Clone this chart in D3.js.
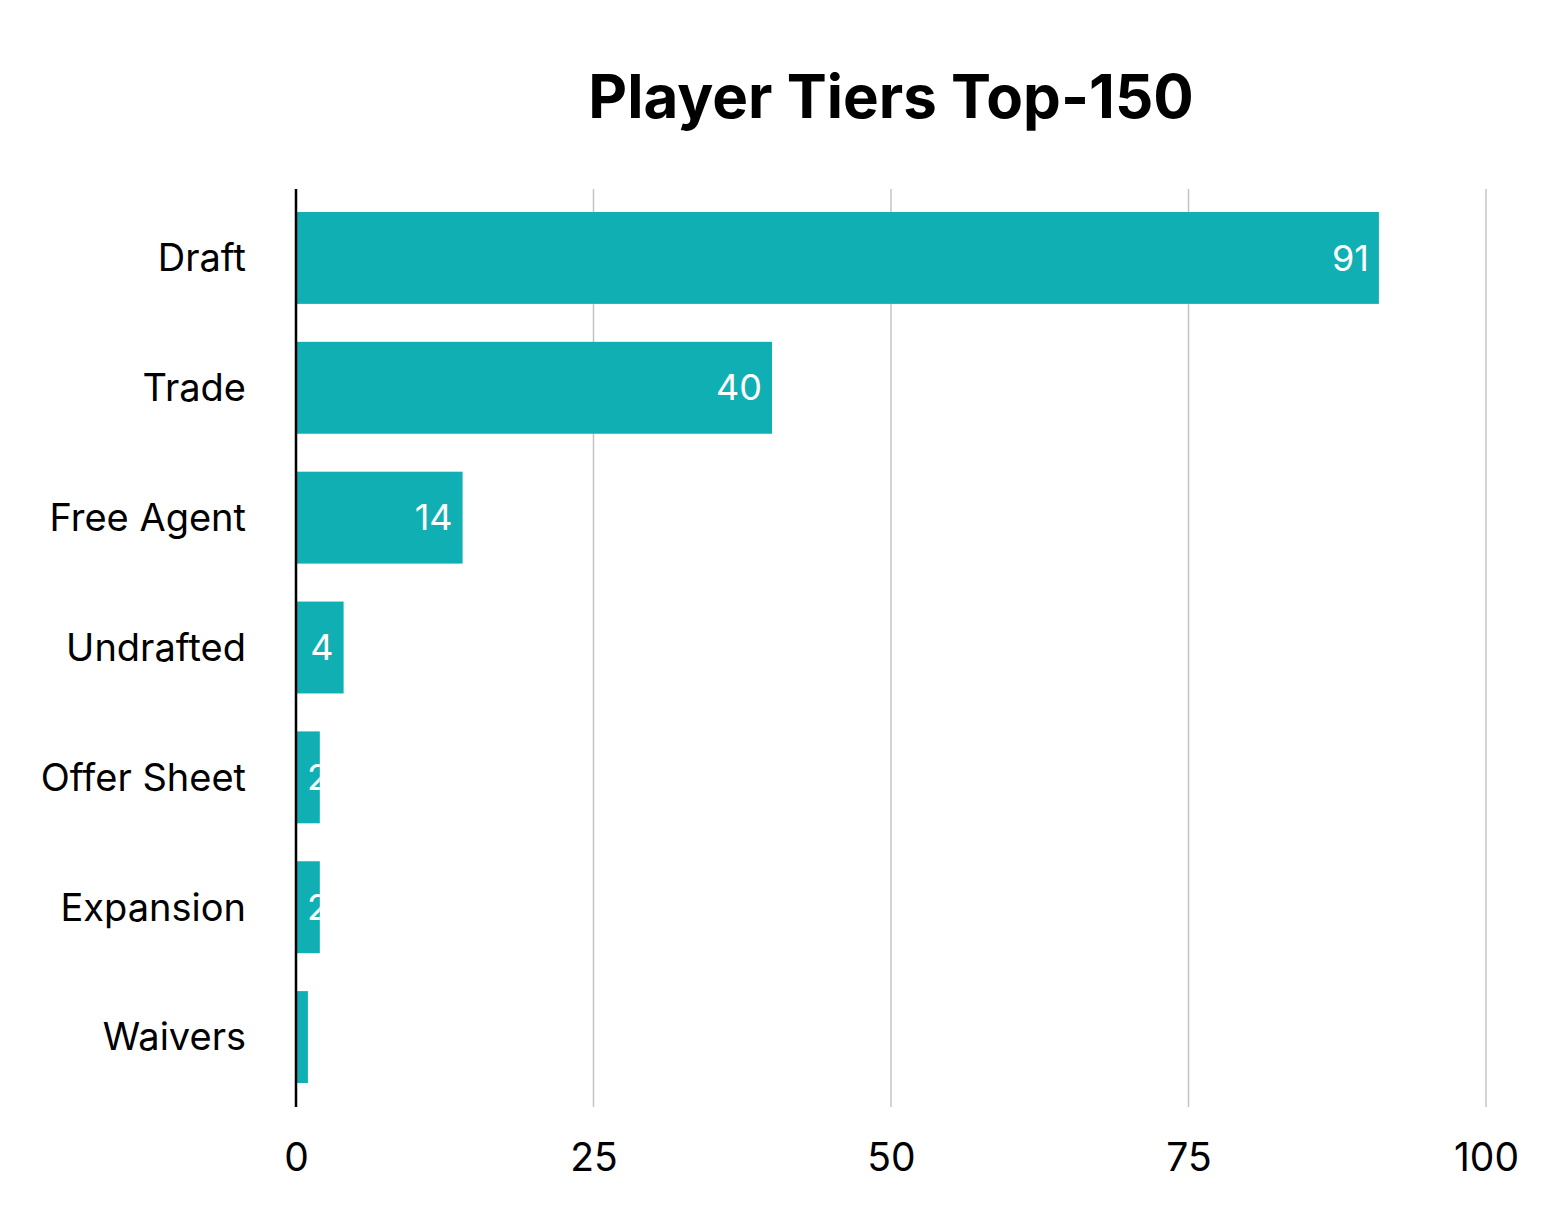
<!DOCTYPE html>
<html><head><meta charset="utf-8">
<script src="https://cdn.jsdelivr.net/npm/d3@7"></script>
<style>body{margin:0;background:#fff;} text{font-family:Inter,"Noto Sans",sans-serif;}</style>
</head><body>
<svg id="c" width="1558" height="1216"></svg>
<script>
const categories = ["Draft","Trade","Free Agent","Undrafted","Offer Sheet","Expansion","Waivers"];
const values = [91,40,14,4,2,2,1];
const xTicks = [0,25,50,75,100];
const title = "Player Tiers Top-150";

const svg = d3.select("#c");
const x = d3.scaleLinear().domain([0,100]).range([296,1486]);
const y = d3.scaleBand().domain(categories).range([193,1102]).paddingInner(0.2923).paddingOuter(0.1462);
const color = "#10AFB4";

svg.append("text").attr("x",891).attr("y",118).attr("text-anchor","middle")
  .attr("font-size",60).attr("font-weight",700).attr("fill","#000").text(title);

// gridlines
svg.append("g").selectAll("line").data(xTicks.filter(d=>d>0)).join("line")
  .attr("x1",d=>x(d)).attr("x2",d=>x(d)).attr("y1",189).attr("y2",1107)
  .attr("stroke","#c4c4c4").attr("stroke-width",1.5);

const defs = svg.append("defs");
categories.forEach((c,i)=>{
  defs.append("clipPath").attr("id","clip"+i).append("rect")
    .attr("x",x(0)).attr("y",y(c)).attr("width",x(values[i])-x(0)).attr("height",y.bandwidth());
});

const g = svg.append("g");
g.selectAll("rect").data(categories).join("rect")
  .attr("x",x(0)).attr("y",d=>y(d)).attr("width",(d,i)=>x(values[i])-x(0))
  .attr("height",y.bandwidth()).attr("fill",color);

const vl = g.selectAll("text.v").data(categories).join("text").attr("class","v")
  .attr("clip-path",(d,i)=>`url(#clip${i})`)
  .attr("y",d=>y(d)+y.bandwidth()/2)
  .attr("dy","0.35em").attr("font-size",36)
  .attr("fill","#fff").text((d,i)=>values[i]);
vl.each(function(d,i){
  const w = this.getComputedTextLength();
  const end = x(values[i]) - 10;
  const sel = d3.select(this);
  if (end - w < x(0) + 11) sel.attr("x", x(0)+11).attr("text-anchor","start");
  else sel.attr("x", end).attr("text-anchor","end");
});

// category labels
svg.append("g").selectAll("text").data(categories).join("text")
  .attr("x",246).attr("y",d=>y(d)+y.bandwidth()/2).attr("dy","0.35em")
  .attr("text-anchor","end").attr("font-size",38).attr("fill","#000").text(d=>d);

// x axis tick labels
const xa = svg.append("g").attr("transform","translate(0,1107)")
  .call(d3.axisBottom(x).tickValues(xTicks).tickSize(0).tickPadding(36));
xa.select(".domain").remove();
xa.selectAll("text").attr("font-size",39).attr("fill","#000").attr("font-family","Inter,'Noto Sans',sans-serif");

// baseline
svg.append("line").attr("x1",x(0)).attr("x2",x(0)).attr("y1",189).attr("y2",1107)
  .attr("stroke","#000").attr("stroke-width",2.5);
</script>
</body></html>
